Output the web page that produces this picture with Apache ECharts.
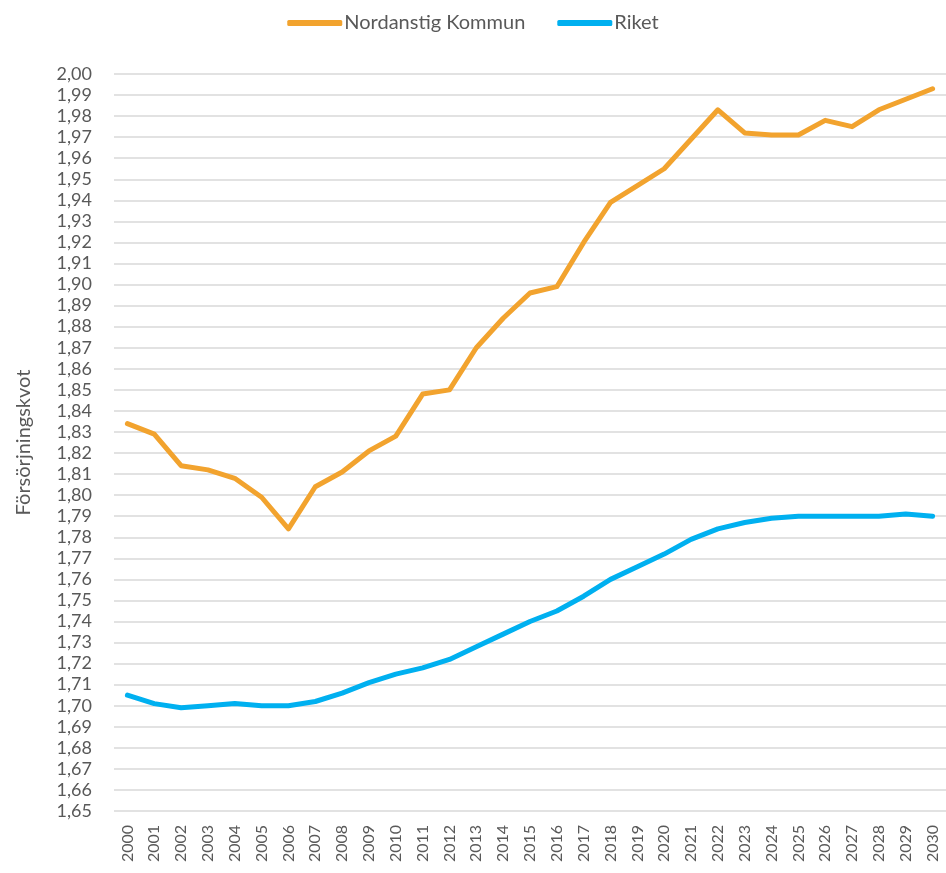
<!DOCTYPE html>
<html>
<head>
<meta charset="utf-8">
<script src="https://cdn.jsdelivr.net/npm/echarts@6/dist/echarts.min.js"></script>
<style>
  html, body { margin: 0; padding: 0; background: #fff; }
  #chart { width: 946px; height: 873px; }
</style>
</head>
<body>
<div id="chart"></div>
<script>
const years = ['2000','2001','2002','2003','2004','2005','2006','2007','2008','2009','2010',
  '2011','2012','2013','2014','2015','2016','2017','2018','2019','2020',
  '2021','2022','2023','2024','2025','2026','2027','2028','2029','2030']

const nordanstig = [1.834,1.829,1.814,1.812,1.808,1.799,1.784,1.804,1.811,1.821,1.828,
  1.848,1.850,1.870,1.884,1.896,1.899,1.920,1.939,1.947,1.955,
  1.969,1.983,1.972,1.971,1.971,1.978,1.975,1.983,1.988,1.993]

const riket = [1.705,1.701,1.699,1.700,1.701,1.700,1.700,1.702,1.706,1.711,1.715,
  1.718,1.722,1.728,1.734,1.740,1.745,1.752,1.760,1.766,1.772,
  1.779,1.784,1.787,1.789,1.790,1.790,1.790,1.790,1.791,1.790]

const textColor = '#595959'
const font = 'Lato'

const chart = echarts.init(document.getElementById('chart'))
chart.setOption({
  animation: false,
  color: ['#F2A32E', '#00B0F0'],
  legend: {
    top: 8,
    left: 'center',
    icon: 'roundRect',
    itemWidth: 55,
    itemHeight: 6,
    itemGap: 32,
    textStyle: { color: textColor, fontSize: 20, fontFamily: font, padding: [0, 0, 0, -3] },
    data: ['Nordanstig Kommun', 'Riket']
  },
  grid: { left: 114, right: 0, top: 74, bottom: 62, containLabel: false },
  xAxis: {
    type: 'category',
    data: years,
    boundaryGap: true,
    axisLine: { show: false },
    axisTick: { show: false },
    axisLabel: { rotate: 90, color: textColor, fontSize: 16, fontFamily: font, margin: 14, interval: 0 }
  },
  yAxis: {
    type: 'value',
    min: 1.65,
    max: 2.00,
    interval: 0.01,
    name: 'Försörjningskvot',
    nameLocation: 'middle',
    nameGap: 80,
    nameTextStyle: { color: textColor, fontSize: 20, fontFamily: font },
    axisLine: { show: false },
    axisTick: { show: false },
    splitLine: { lineStyle: { color: '#d9d9d9', width: 1.5 } },
    axisLabel: {
      color: textColor, fontSize: 18, fontFamily: font, margin: 22,
      formatter: v => v.toFixed(2).replace('.', ',')
    }
  },
  series: [
    { name: 'Nordanstig Kommun', type: 'line', data: nordanstig, symbol: 'none',
      lineStyle: { width: 5, cap: 'round', join: 'round' } },
    { name: 'Riket', type: 'line', data: riket, symbol: 'none',
      lineStyle: { width: 5, cap: 'round', join: 'round' } }
  ]
})
</script>
</body>
</html>
